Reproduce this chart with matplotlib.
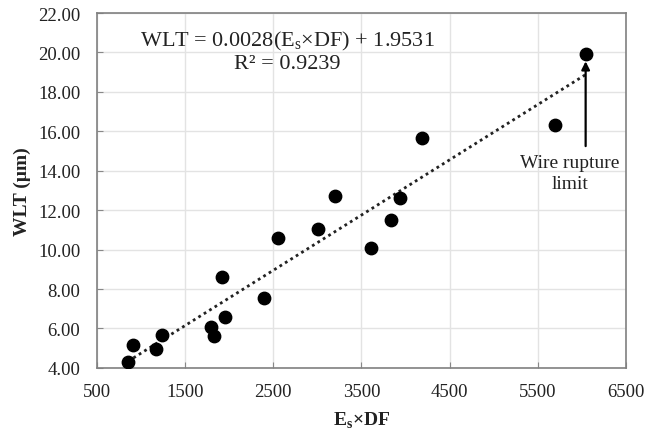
import matplotlib
matplotlib.use("Agg")
import matplotlib.pyplot as plt
import numpy as np

# Es x DF vs wire lag thickness (WLT)
es_df = [851, 908, 1165, 1237, 1793, 1827, 1917, 1948, 2393, 2552,
         3006, 3198, 3603, 3833, 3935, 4185, 5693, 6044]
wlt = [4.32, 5.17, 4.96, 5.67, 6.08, 5.62, 8.61, 6.59, 7.55, 10.59,
       11.05, 12.72, 10.08, 11.50, 12.62, 15.66, 16.32, 19.94]

slope = 0.0028
intercept = 1.9531
r2 = 0.9239

xticks = [500, 1500, 2500, 3500, 4500, 5500, 6500]
yticks = [4, 6, 8, 10, 12, 14, 16, 18, 20, 22]

plt.rcParams["font.family"] = ["Liberation Serif", "DejaVu Serif"]
plt.rcParams["mathtext.fontset"] = "custom"
plt.rcParams["mathtext.rm"] = "Liberation Serif"
plt.rcParams["mathtext.bf"] = "Liberation Serif:bold"

fig = plt.figure(figsize=(6.56, 4.31), dpi=100)
ax = fig.add_axes([0.148, 0.144, 0.806, 0.8235])

ax.grid(True, color="#e3e3e3", linewidth=1.0)
ax.set_axisbelow(True)

xfit = np.array([min(es_df), max(es_df)])
ax.plot(xfit, slope * xfit + intercept, color="#222222", linewidth=2.0,
        linestyle=(0, (1, 1.3)))
ax.scatter(es_df, wlt, s=80, color="black", zorder=3)

ax.set_xlim(500, 6500)
ax.set_ylim(4, 22)
ax.set_xticks(xticks)
ax.set_yticks(yticks)
ax.set_yticklabels([f"{v:.2f}" for v in yticks])
ax.tick_params(direction="in", length=4, color="#888888", labelsize=13.5,
               labelcolor="#222222")
ax.tick_params(axis="y", pad=12)
ax.tick_params(axis="x", pad=11)
for sp in ax.spines.values():
    sp.set_color("#808080")
    sp.set_linewidth(1.2)

ax.set_xlabel(r"E$_\mathregular{s}$×DF", fontsize=14, fontweight="bold",
              color="#222222", labelpad=7)
ax.set_ylabel("WLT (µm)", fontsize=14, fontweight="bold", color="#222222",
              labelpad=5)

ax.text(2654, 20.62, rf"WLT = {slope:.4f}(E$_\mathregular{{s}}$×DF) + {intercept:.4f}",
        ha="center", va="center", fontsize=16, color="#222222")
ax.text(2654, 19.42, f"R² = {r2:.4f}", ha="center", va="center",
        fontsize=16, color="#222222")

ax.annotate("", xy=(es_df[-1], 19.55), xytext=(es_df[-1], 15.25),
            arrowprops=dict(arrowstyle="-|>", color="black", lw=1.6,
                            mutation_scale=12, shrinkA=0, shrinkB=0))
ax.text(5863, 14.85, "Wire rupture\nlimit", ha="center", va="top",
        fontsize=14, color="#222222", linespacing=1.3)

fig.savefig("out.png", dpi=100)
